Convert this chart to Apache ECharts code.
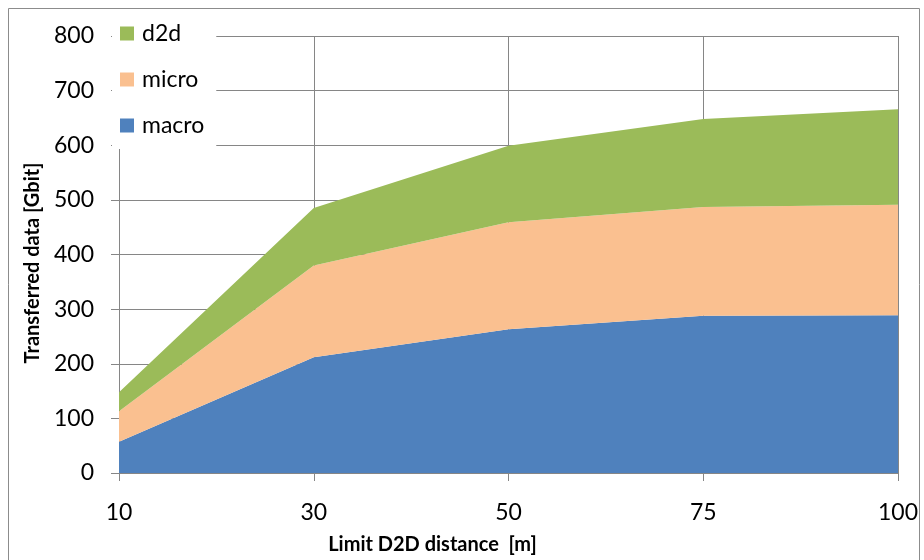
<!DOCTYPE html>
<html><head><meta charset="utf-8">
<script src="https://cdn.jsdelivr.net/npm/echarts@6/dist/echarts.min.js"></script>
<style>html,body{margin:0;padding:0;background:#fff}#c{width:924px;height:560px}</style>
</head><body><div id="c"></div>
<script>
const categories = ['10','30','50','75','100'];
const macro = [57, 212, 263, 288, 289];
const micro = [56, 168, 196, 199, 202];
const d2d = [35, 105, 140, 161, 175];
const yTicks = [0,100,200,300,400,500,600,700,800];
const xTitle = 'Limit D2D distance  [m]';
const yTitle = 'Transferred data [Gbit]';

const font = 'Lato, "Liberation Sans", sans-serif';
const chart = echarts.init(document.getElementById('c'), null, {renderer:'canvas'});
const grey = '#868686';
function s(name, data, color){
  return {name, type:'line', stack:'t', data, symbol:'none', lineStyle:{width:0},
    areaStyle:{color, opacity:1}, itemStyle:{color}, emphasis:{disabled:true}};
}
chart.setOption({
  animation:false,
  graphic:[
    {type:'rect', shape:{x:8.5,y:8.5,width:911,height:560}, style:{fill:'none', stroke:'#8c8c8c', lineWidth:1}, z:-1},
    {type:'text', x:33, y:263, rotation:Math.PI/2,
      style:{text:yTitle, font:'bold 20px ' + font, fill:'#000', align:'center', verticalAlign:'middle'}}
  ],
  grid:{left:119, right:26, top:36, bottom:86},
  legend:{orient:'vertical', left:112, top:18, backgroundColor:'#fff', padding:[4,12,12,8],
    itemWidth:14, itemHeight:14, itemGap:23, icon:'rect',
    data:['d2d','micro','macro'],
    textStyle:{fontFamily:font, fontSize:23, lineHeight:23, color:'#000', padding:[0,0,0,3]}},
  xAxis:{type:'category', data:categories, boundaryGap:false,
    name:xTitle, nameLocation:'middle', nameGap:62,
    nameTextStyle:{fontFamily:font, fontSize:20, fontWeight:'bold', color:'#000', padding:[0,152,0,0]},
    axisLine:{lineStyle:{color:grey}}, axisTick:{show:true, length:8, lineStyle:{color:grey}},
    axisLabel:{fontFamily:font, fontSize:23, color:'#000', margin:28},
    splitLine:{show:true, lineStyle:{color:grey, width:1}}},
  yAxis:{type:'value', min:0, max:800, interval:100,
    axisLine:{show:true, lineStyle:{color:grey}}, axisTick:{show:true, length:8, lineStyle:{color:grey}},
    axisLabel:{fontFamily:font, fontSize:23, color:'#000', margin:25,
      formatter:v=> yTicks.includes(v) ? String(v) : ''},
    splitLine:{show:true, lineStyle:{color:grey, width:1}}},
  series:[s('macro', macro, '#4F81BD'), s('micro', micro, '#FAC090'), s('d2d', d2d, '#9BBB59')]
});
</script></body></html>
